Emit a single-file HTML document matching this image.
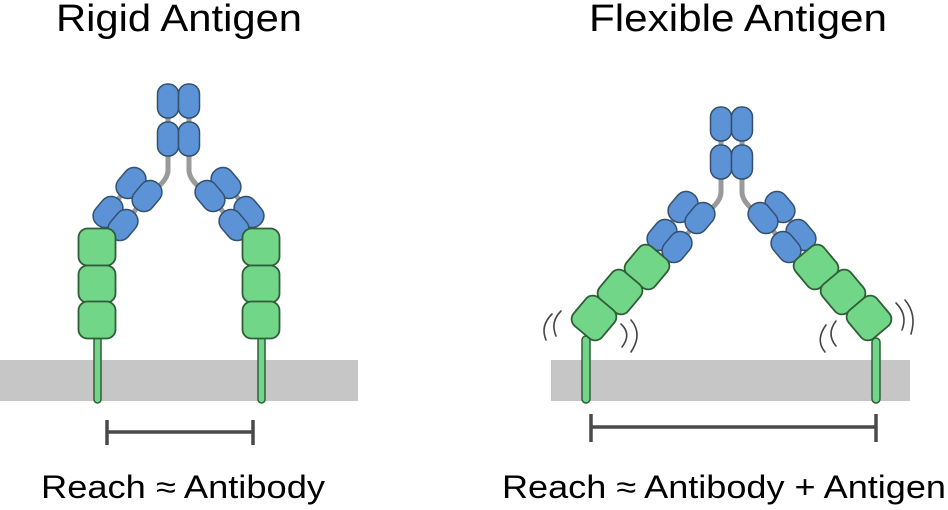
<!DOCTYPE html>
<html><head><meta charset="utf-8"><style>html,body{margin:0;padding:0;background:#fff}svg{display:block}</style></head>
<body>
<svg width="948" height="510" viewBox="0 0 948 510" xmlns="http://www.w3.org/2000/svg" font-family="Liberation Sans, Arial, sans-serif">
<defs>
<g id="pill"><rect x="-11.5" y="-16.5" width="23" height="33" rx="11" ry="11" fill="#5b93d6" stroke="#34506e" stroke-width="1.5"/></g>
<g id="pillv"><rect x="-10.5" y="-17" width="21" height="34" rx="10" ry="10" fill="#5b93d6" stroke="#34506e" stroke-width="1.5"/></g>
<g id="box"><rect x="-18.5" y="-18.5" width="37" height="37" rx="9" ry="9" fill="#72d688" stroke="#2f5e37" stroke-width="1.8"/></g>
</defs>
<text x="56" y="31" font-size="38" textLength="246" lengthAdjust="spacingAndGlyphs" fill="#000">Rigid Antigen</text>
<text x="589" y="31" font-size="38" textLength="298" lengthAdjust="spacingAndGlyphs" fill="#000">Flexible Antigen</text>
<text x="41" y="498" font-size="32" textLength="284" lengthAdjust="spacingAndGlyphs" fill="#000">Reach ≈ Antibody</text>
<text x="502" y="498" font-size="32" textLength="444" lengthAdjust="spacingAndGlyphs" fill="#000">Reach ≈ Antibody + Antigen</text>

<rect x="0" y="360" width="358" height="41" fill="#c6c6c6"/>
<rect x="551" y="360" width="359" height="41" fill="#c6c6c6"/>

<g stroke="#4a4a4a" stroke-width="3.5" fill="none">
<path d="M107 432H253M107 420V445M253 420V445"/>
<path d="M591 427H876M591 414V442M876 414V442"/>
</g>

<g>
<rect x="94" y="330" width="7" height="73" rx="3.5" fill="#72d688" stroke="#2f5e37" stroke-width="1.5"/>
<rect x="258" y="330" width="7" height="73" rx="3.5" fill="#72d688" stroke="#2f5e37" stroke-width="1.5"/>
<g stroke="#9a9a9a" stroke-width="5" fill="none" stroke-linecap="round">
<path d="M168 150V170Q168 178 158 187"/>
<path d="M189 150V170Q189 178 199 187"/>
<path d="M168 115V125M189 115V125"/>
<path d="M131 183L108 212M147 196L123 225"/>
<path d="M226 183L249 212M210 196L234 225"/>
</g>
<use href="#pillv" transform="translate(168,101)"/>
<use href="#pillv" transform="translate(189,101)"/>
<use href="#pillv" transform="translate(168,139)"/>
<use href="#pillv" transform="translate(189,139)"/>
<use href="#pill" transform="translate(131,183) rotate(40)"/>
<use href="#pill" transform="translate(147,196) rotate(40)"/>
<use href="#pill" transform="translate(108,212) rotate(40)"/>
<use href="#pill" transform="translate(123,225) rotate(40)"/>
<use href="#pill" transform="translate(226,183) rotate(-40)"/>
<use href="#pill" transform="translate(210,196) rotate(-40)"/>
<use href="#pill" transform="translate(249,212) rotate(-40)"/>
<use href="#pill" transform="translate(234,225) rotate(-40)"/>
<use href="#box" transform="translate(97,247)"/>
<use href="#box" transform="translate(97,284)"/>
<use href="#box" transform="translate(97,320)"/>
<use href="#box" transform="translate(261,247)"/>
<use href="#box" transform="translate(261,284)"/>
<use href="#box" transform="translate(261,320)"/>
</g>

<g>
<rect x="582" y="336" width="8" height="67" rx="4" fill="#72d688" stroke="#2f5e37" stroke-width="1.5"/>
<rect x="872" y="338" width="8" height="65" rx="4" fill="#72d688" stroke="#2f5e37" stroke-width="1.5"/>
<g stroke="#9a9a9a" stroke-width="5" fill="none" stroke-linecap="round">
<path d="M721 172V192Q721 200 711 209"/>
<path d="M742 172V192Q742 200 752 209"/>
<path d="M721 136V147M742 136V147"/>
<path d="M683 207L662 235M700 218L677 247"/>
<path d="M780 207L801 235M763 218L786 247"/>
</g>
<use href="#pillv" transform="translate(721,124)"/>
<use href="#pillv" transform="translate(742,124)"/>
<use href="#pillv" transform="translate(721,162)"/>
<use href="#pillv" transform="translate(742,162)"/>
<use href="#pill" transform="translate(683,207) rotate(40)"/>
<use href="#pill" transform="translate(700,218) rotate(40)"/>
<use href="#pill" transform="translate(662,235) rotate(40)"/>
<use href="#pill" transform="translate(677,247) rotate(40)"/>
<use href="#pill" transform="translate(780,207) rotate(-40)"/>
<use href="#pill" transform="translate(763,218) rotate(-40)"/>
<use href="#pill" transform="translate(801,235) rotate(-40)"/>
<use href="#pill" transform="translate(786,247) rotate(-40)"/>
<use href="#box" transform="translate(647,267) rotate(40)"/>
<use href="#box" transform="translate(620,292) rotate(40)"/>
<use href="#box" transform="translate(594,318) rotate(40)"/>
<use href="#box" transform="translate(816,267) rotate(-40)"/>
<use href="#box" transform="translate(843,292) rotate(-40)"/>
<use href="#box" transform="translate(869,318) rotate(-40)"/>
<g stroke="#444" stroke-width="1.6" fill="none" stroke-linecap="round">
<path d="M552 314Q540 326 546 340"/>
<path d="M561 311Q550 322 556 336"/>
<path d="M621 324Q632 334 622 347"/>
<path d="M631 320Q643 334 631 352"/>
<path d="M826 325Q815 340 825 352"/>
<path d="M836 321Q826 334 836 346"/>
<path d="M896 303Q908 315 902 330"/>
<path d="M905 300Q917 314 911 334"/>
</g>
</g>
</svg>
</body></html>
